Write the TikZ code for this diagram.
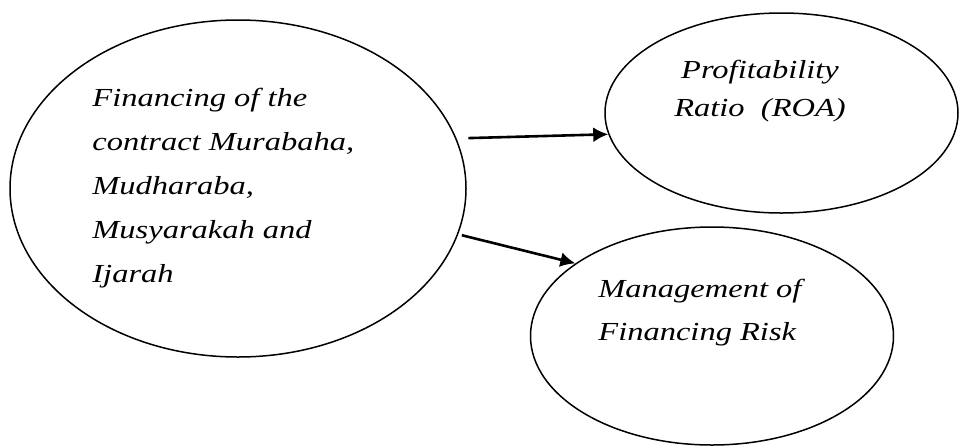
\documentclass[tikz,border=0pt]{standalone}
\usepackage{fontspec}
\setmainfont{Liberation Serif}[FakeStretch=1.25]
\usetikzlibrary{shapes, arrows.meta, positioning, calc}

\begin{document}
\begin{tikzpicture}[x=0.5pt, y=-0.5pt, >={Latex[length=7.5pt,width=7.5pt]}]
        \tikzstyle{oval} = [draw, ellipse, line width=0.75pt, inner sep=0pt]
        \tikzstyle{txt} = [font=\itshape\fontsize{13}{22}\selectfont, align=left, anchor=base west, inner sep=0pt]
        \tikzstyle{link} = [->, line width=1.3pt]

        \useasboundingbox (0,0) rectangle (959,446);

        % --- ellipses ---
        \node [oval, minimum width=228pt, minimum height=168.5pt] (fin) at (238,188.5) {};
        \node [oval, minimum width=176.5pt, minimum height=100pt] (roa) at (781.5,113) {};
        \node [oval, minimum width=181.5pt, minimum height=109pt] (risk) at (712,336) {};

        % --- texts (anchored at the last line) ---
        \node [txt] (fin_txt) at (92,282) {Financing of the\\contract Murabaha,\\Mudharaba,\\Musyarakah and\\Ijarah};
        \node [txt, align=center, anchor=base, font=\itshape\fontsize{13}{19}\selectfont] (roa_txt) at (760,116) {Profitability\\Ratio\ \ (ROA)};
        \node [txt, font=\itshape\fontsize{13}{21.5}\selectfont] (risk_txt) at (598,340) {Management of\\Financing Risk};

        % --- arrows ---
        \draw [link] ([xshift=6pt]fin.13) -- (roa.187);
        \draw [link] ([xshift=2pt]fin.-12) -- (risk.152);

\end{tikzpicture}
\end{document}
